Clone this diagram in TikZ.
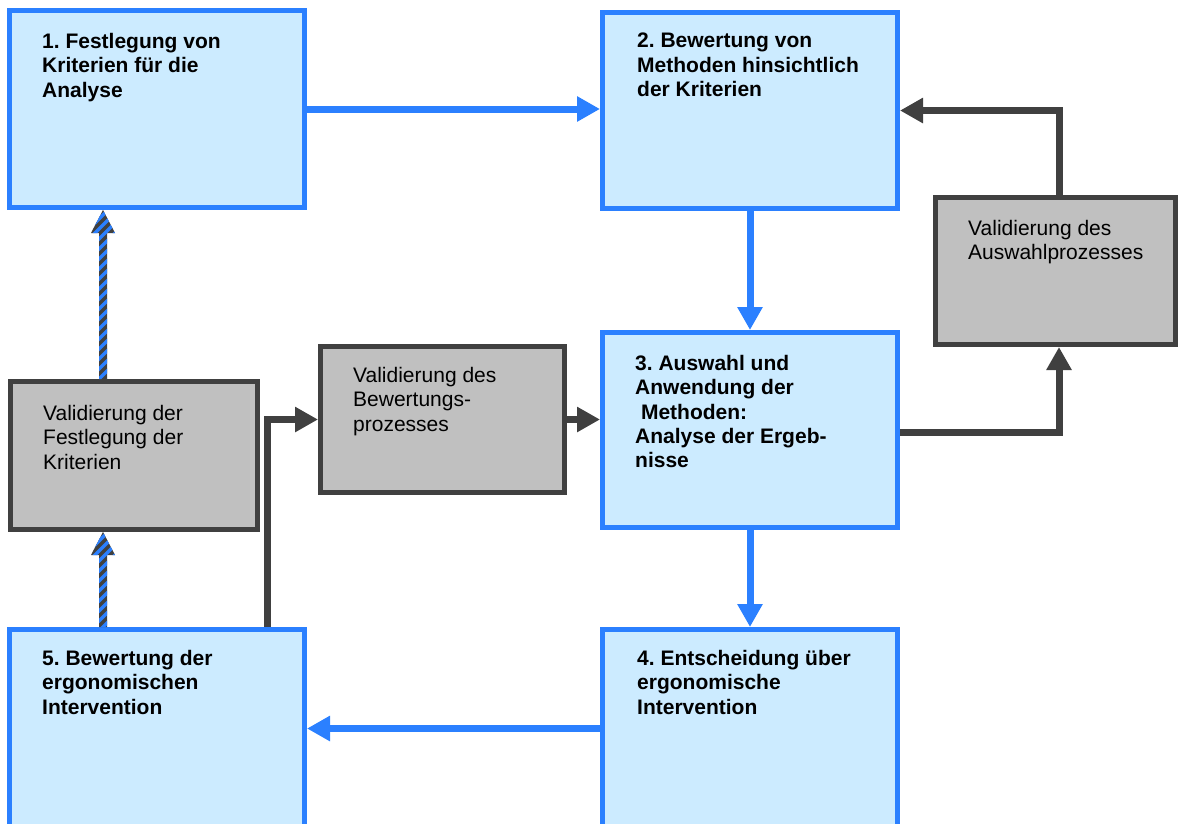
\documentclass[tikz,border=0pt]{standalone}
\usepackage{fontspec}
\setmainfont{Liberation Sans}
\frenchspacing
\usetikzlibrary{arrows.meta,calc}
\definecolor{bbord}{RGB}{43,128,255}
\definecolor{bfill}{RGB}{204,235,255}
\definecolor{gfill}{RGB}{192,192,192}
\definecolor{gdark}{RGB}{64,64,64}
\newcommand\stripearrow[2]{%
  \def\sapath{($(#1)+(-4,0)$) -- ($(#2)+(-4,23)$) -- ($(#2)+(-12,23)$) -- (#2) -- ($(#2)+(12,23)$) -- ($(#2)+(4,23)$) -- ($(#1)+(4,0)$) -- cycle}%
  \fill[gdark] \sapath;
  \begin{scope}
    \clip \sapath;
    \foreach \k in {0,...,21} {\draw[bbord,line width=3.5pt] ($(#2)+(-15,\k*10)$) -- ++(30,-30);}
  \end{scope}
}
\begin{document}
\begin{tikzpicture}[x=1pt,y=-1pt,
  bluebox/.style={draw=bbord,fill=bfill,line width=5pt,inner sep=0pt},
  graybox/.style={draw=gdark,fill=gfill,line width=5pt,inner sep=0pt},
  btext/.style={anchor=north west,inner sep=0pt,align=left,font=\fontsize{21}{24.3}\selectfont\bfseries},
  gtext/.style={anchor=north west,inner sep=0pt,align=left,font=\fontsize{21}{24.3}\selectfont},
  bluearrow/.style={draw=bbord,line width=7pt,-{Triangle[width=24pt,length=23pt]}},
  grayarrow/.style={draw=gdark,line width=7pt,-{Triangle[width=24pt,length=23pt]}}]
\useasboundingbox (0,0) rectangle (1178,823);
% boxes
\node[bluebox,minimum width=295pt,minimum height=197pt] (b1) at (157,109) {};
\node[bluebox,minimum width=295pt,minimum height=196pt] (b2) at (750,110.5) {};
\node[bluebox,minimum width=295pt,minimum height=195pt] (b3) at (750,430) {};
\node[bluebox,minimum width=295pt,minimum height=198pt] (b4) at (750,728.5) {};
\node[bluebox,minimum width=295pt,minimum height=198pt] (b5) at (157,728.5) {};
\node[graybox,minimum width=247pt,minimum height=148pt] (g1) at (134,455.5) {};
\node[graybox,minimum width=244pt,minimum height=146pt] (g2) at (442.5,419.5) {};
\node[graybox,minimum width=240pt,minimum height=147pt] (g3) at (1055.5,271) {};
% texts
\node[btext] (t1) at (42,33) {1. Festlegung von\\Kriterien für die\\Analyse};
\node[btext] (t2) at (637,33) {2. Bewertung von\\Methoden hinsichtlich\\der Kriterien};
\node[btext] (t3) at (635,355) {3. Auswahl und\\Anwendung der\\\hspace*{5.8pt}Methoden:\\Analyse der Ergeb-\\nisse};
\node[btext] (t4) at (637,650) {4. Entscheidung über\\ergonomische\\Intervention};
\node[btext] (t5) at (42,650) {5. Bewertung der\\ergonomischen\\Intervention};
\node[gtext] (tg1) at (43,405) {Validierung der\\Festlegung der\\Kriterien};
\node[gtext] (tg2) at (353,367) {Validierung des\\Bewertungs-\\prozesses};
\node[gtext] (tg3) at (968,220) {Validierung des\\Auswahlprozesses};
% blue arrows
\draw[bluearrow] (b1.east) -- (b1.east -| b2.west);
\draw[bluearrow] (b2.south) -- (b3.north);
\draw[bluearrow] (b3.south) -- (b4.north);
\draw[bluearrow] (b4.west) -- (b4.west -| b5.east);
% gray arrows
\coordinate (c3a) at ($(b3.east)+(0,2)$);
\coordinate (c3b) at ($(g3.south)+(3.5,0)$);
\draw[grayarrow] (c3a) -| (c3b);
\coordinate (c2a) at ($(g3.north)+(3.5,0)$);
\draw[grayarrow] (c2a) |- (b2.east);
\coordinate (c5a) at ($(b5.north)+(110,0)$);
\draw[grayarrow] (c5a) |- (g2.west);
\draw[grayarrow] (g2.east) -- (g2.east -| b3.west);
% striped arrows
\coordinate (s1) at ($(b5.north)+(-54,0)$);
\coordinate (e1) at (s1 |- g1.south);
\coordinate (s2) at (s1 |- g1.north);
\coordinate (e2) at (s1 |- b1.south);
\stripearrow{s1}{e1}
\stripearrow{s2}{e2}
\end{tikzpicture}
\end{document}
